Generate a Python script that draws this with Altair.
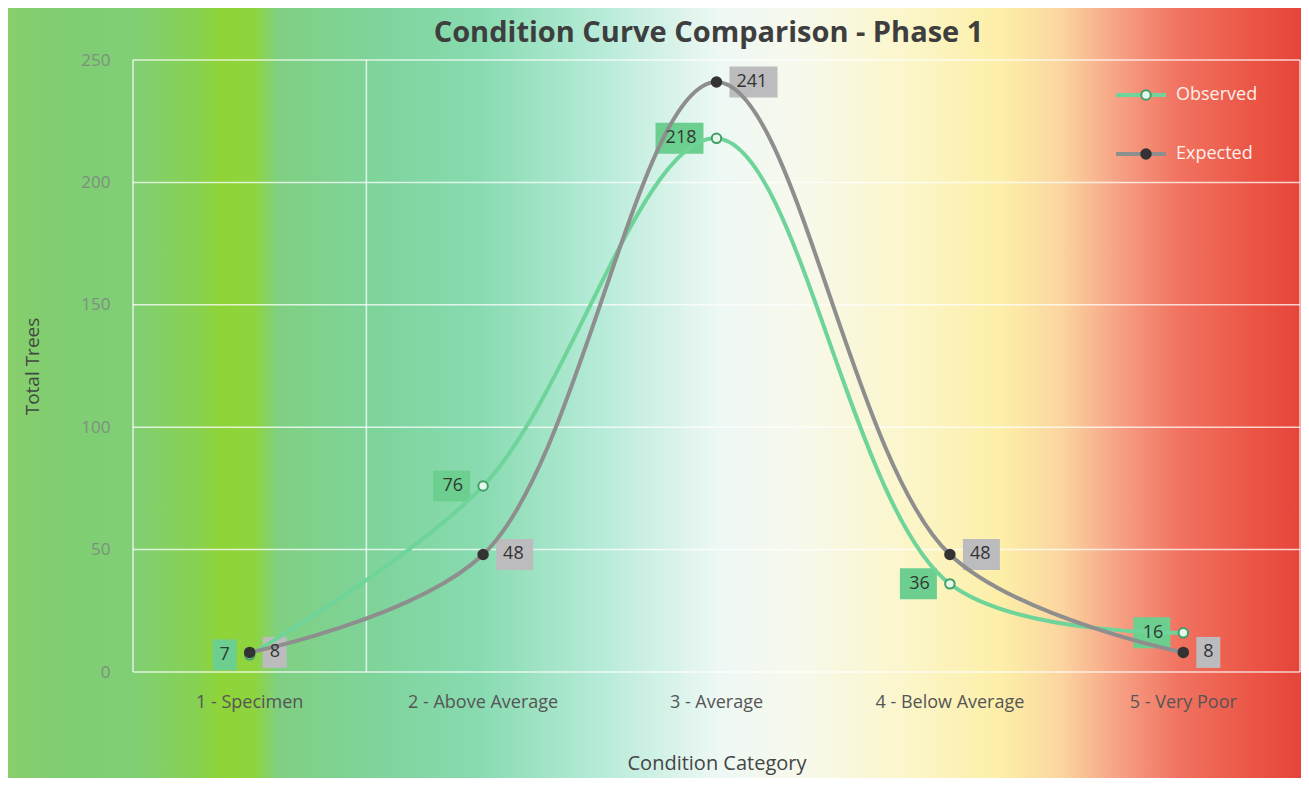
import altair as alt
import pandas as pd

# ---- data ----
categories = ["1 - Specimen", "2 - Above Average", "3 - Average", "4 - Below Average", "5 - Very Poor"]
observed = [7, 76, 218, 36, 16]
expected = [8, 48, 241, 48, 8]
series_names = ["Observed", "Expected"]
point_keys = ["obs_pt", "exp_pt"]
y_ticks = [0, 50, 100, 150, 200, 250]

rows = []
for c, o, e in zip(categories, observed, expected):
    rows.append({"category": c, "series": "Observed", "series2": "obs_pt", "value": o})
    rows.append({"category": c, "series": "Expected", "series2": "exp_pt", "value": e})
df = pd.DataFrame(rows)

W, H = 1167, 612
PAD_L, PAD_T, PAD_R, PAD_B = 125, 52, 1, 106
TOTAL_W = PAD_L + W + PAD_R

GREEN = "#6fd49a"
GREEN_DARK = "#3f9f66"
GREY = "#8e8e8e"
BOX_GREEN = "#6dcf8f"
BOX_GREY = "#bcbcbe"
FONT = "Open Sans"

# background gradient (image x -> colour)
grad_pts = [
    (8, "#88cf6c"), (60, "#80cd72"), (130, "#80cf76"), (195, "#86d152"),
    (222, "#8fd437"), (255, "#8ed440"), (278, "#7fd082"), (380, "#7fd49c"),
    (480, "#88dbb0"), (600, "#b6ebd8"), (720, "#eef8f4"), (800, "#f7f9ec"),
    (900, "#fbf6cc"), (1000, "#fdefa8"), (1060, "#fbd6a0"), (1120, "#f6a084"),
    (1180, "#f17260"), (1250, "#eb5646"), (1301, "#e6443a"),
]
stops = [alt.GradientStop(color=c, offset=max(0.0, min(1.0, (x - 8) / TOTAL_W))) for x, c in grad_pts]

x_enc = alt.X("category:N", sort=categories,
              scale=alt.Scale(type="band", domain=categories, paddingInner=0, paddingOuter=0),
              axis=alt.Axis(title="Condition Category", labelAngle=0, labelAlign="center",
                            grid=False, domain=False, ticks=False, labelPadding=30,
                            labelFont=FONT, labelFontSize=18, labelColor="#555555",
                            titleFont=FONT, titleFontSize=20, titleFontWeight="normal",
                            titleColor="#454545", titlePadding=42, zindex=1))
y_enc = alt.Y("value:Q", scale=alt.Scale(domain=[0, 250], nice=False),
              axis=alt.Axis(title="Total Trees", values=y_ticks, grid=False, domain=False,
                            ticks=False, labelPadding=23, labelFont=FONT, labelFontSize=17,
                            labelColor="#7d907f", titleFont=FONT, titleFontSize=19,
                            titleFontWeight="normal", titleColor="#404a40", titlePadding=38,
                            zindex=1))

bg = alt.Chart(pd.DataFrame({"k": [0]})).mark_rect(
    color=alt.Gradient(gradient="linear", stops=stops, x1=0, x2=1, y1=0, y2=0)
).encode(x=alt.value(-PAD_L), x2=alt.value(W + PAD_R), y=alt.value(-PAD_T), y2=alt.value(H + PAD_B))

hgrid = alt.Chart(pd.DataFrame({"value": y_ticks})).mark_rule(
    color="white", strokeWidth=1.5, opacity=0.75
).encode(y=alt.Y("value:Q", scale=alt.Scale(domain=[0, 250], nice=False)))

vgrid_a = alt.Chart(pd.DataFrame({"category": categories[:2]})).mark_rule(
    color="white", strokeWidth=1.5, opacity=0.75).encode(
    x=alt.X("category:N", sort=categories, bandPosition=0))
vgrid_b = alt.Chart(pd.DataFrame({"category": categories[-1:]})).mark_rule(
    color="white", strokeWidth=1.5, opacity=0.75).encode(
    x=alt.X("category:N", sort=categories, bandPosition=1))

base = alt.Chart(df)

lines = base.mark_line(interpolate="catmull-rom", strokeWidth=4).encode(
    x=x_enc, y=y_enc,
    color=alt.Color("series:N", scale=alt.Scale(domain=series_names, range=[GREEN, GREY]),
                    legend=alt.Legend(orient="none", legendX=981, legendY=25, title=None,
                                      symbolType="stroke", symbolSize=2500, symbolStrokeWidth=4,
                                      labelColor="#fdf0ea", labelFont=FONT, labelFontSize=18,
                                      labelOffset=8, rowPadding=39, clipHeight=20, padding=0)),
    detail="series:N",
)

pt_legend = alt.Legend(orient="none", legendX=1004, legendY=25, title=None, symbolType="circle",
                       symbolSize=90, symbolStrokeWidth=2, labelExpr="''", labelFontSize=18,
                       rowPadding=39, clipHeight=20, padding=0)
points = base.mark_point(filled=True, size=90, strokeWidth=2, opacity=1).encode(
    x=x_enc, y=y_enc,
    fill=alt.Fill("series2:N", scale=alt.Scale(domain=point_keys, range=["#e6f8ec", "#333333"]),
                  legend=pt_legend),
    stroke=alt.Stroke("series2:N", scale=alt.Scale(domain=point_keys, range=[GREEN_DARK, "#333333"]),
                      legend=pt_legend),
)

obs_paths = ["M-37,-15.5H-13V15.5H-37Z", "M-50,-15.5H-13V15.5H-50Z", "M-61,-15.5H-13V15.5H-61Z"]
exp_paths = ["M13,-15.5H37V15.5H13Z", "M13,-15.5H50V15.5H13Z", "M13,-15.5H61V15.5H13Z"]

lab = base.transform_calculate(len="length(toString(datum.value))")

obs_box = lab.transform_filter(alt.datum.series == "Observed").mark_point(
    filled=True, size=4, opacity=1, color=BOX_GREEN, strokeWidth=0
).encode(x=x_enc, y=y_enc,
         shape=alt.Shape("len:O", scale=alt.Scale(domain=[1, 2, 3], range=obs_paths), legend=None))
exp_box = lab.transform_filter(alt.datum.series == "Expected").mark_point(
    filled=True, size=4, opacity=1, color=BOX_GREY, strokeWidth=0
).encode(x=x_enc, y=y_enc,
         shape=alt.Shape("len:O", scale=alt.Scale(domain=[1, 2, 3], range=exp_paths), legend=None))

obs_text = base.transform_filter(alt.datum.series == "Observed").mark_text(
    align="right", baseline="middle", dx=-20, font=FONT, fontSize=18, color="#2f3a32"
).encode(x=x_enc, y=y_enc, text="value:Q")
exp_text = base.transform_filter(alt.datum.series == "Expected").mark_text(
    align="left", baseline="middle", dx=20, font=FONT, fontSize=18, color="#333333"
).encode(x=x_enc, y=y_enc, text="value:Q")

chart = alt.layer(
    bg, hgrid, vgrid_a, vgrid_b, obs_box, exp_box, lines, points, obs_text, exp_text
).resolve_scale(shape="independent").properties(
    width=W, height=H,
    autosize=alt.AutoSizeParams(type="none"),
    padding={"left": PAD_L, "top": PAD_T, "right": PAD_R, "bottom": PAD_B},
    title=alt.TitleParams("Condition Curve Comparison - Phase 1", font=FONT, fontSize=29,
                          fontWeight="bold", color="#3e3e3e", anchor="middle", frame="group",
                          offset=-40, dx=-8, zindex=1),
).configure_view(stroke=None).configure(background="white")

chart.save("out.html", embed_options={"renderer": "svg", "actions": False})
